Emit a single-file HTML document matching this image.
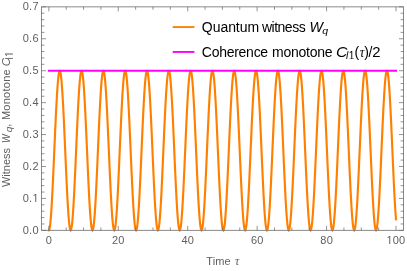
<!DOCTYPE html>
<html>
<head>
<meta charset="utf-8">
<title>Quantum witness vs coherence monotone</title>
<style>
html,body{margin:0;padding:0;background:#fff}
body{width:407px;height:271px;overflow:hidden}
svg{display:block;will-change:transform}
text{font-family:"Liberation Sans",sans-serif}
.t{font-size:11px;fill:#5e5e5e}
.l{font-size:14px;fill:#000}
.i{font-style:italic}
.s{font-family:"Liberation Serif",serif;font-style:italic}
.wq{fill:none;stroke:#ff8000;stroke-width:2.15;stroke-linejoin:miter;stroke-linecap:square}
.cl{fill:none;stroke:#ff00ff;stroke-width:2}
.frame{fill:none;stroke:#7c7c7c;stroke-width:.9}
.ticks{fill:none;stroke:#666;stroke-width:.7}
</style>
</head>
<body>
<svg width="407" height="271" viewBox="0 0 407 271">
<defs>
<clipPath id="k11"><path d="M-1 -11.00H11.00V-1.05H3.79V1H2.72V-1.05H-1Z"/></clipPath>
<clipPath id="k10"><path d="M-1 -10.20H10.20V-0.95H3.52V1H2.52V-0.95H-1Z"/></clipPath>
<clipPath id="pk"><rect x="40" y="69.63" width="367" height="200"/></clipPath>
</defs>
<rect width="407" height="271" fill="#fff"/>
<!-- curves -->
<polyline class="wq" clip-path="url(#pk)" points="48.85,230.35 49.3,229.67 49.76,227.63 50.21,224.27 50.67,219.66 51.12,213.86 51.58,206.97 52.03,199.12 52.49,190.44 52.94,181.07 53.39,171.19 53.85,160.95 54.3,150.53 54.76,140.11 55.21,129.87 55.67,119.98 56.12,110.62 56.58,101.94 57.03,94.09 57.48,87.2 57.94,81.4 58.39,76.78 58.85,73.43 59.3,71.39 59.76,70.71 60.21,71.39 60.66,73.43 61.12,76.78 61.57,81.4 62.03,87.2 62.48,94.09 62.94,101.94 63.39,110.62 63.85,119.98 64.3,129.87 64.75,140.11 65.21,150.53 65.66,160.95 66.12,171.19 66.57,181.07 67.03,190.44 67.48,199.12 67.94,206.97 68.39,213.86 68.84,219.66 69.3,224.27 69.75,227.63 70.21,229.67 70.66,230.35 71.12,229.67 71.57,227.63 72.03,224.27 72.48,219.66 72.93,213.86 73.39,206.97 73.84,199.12 74.3,190.44 74.75,181.07 75.21,171.19 75.66,160.95 76.12,150.53 76.57,140.11 77.02,129.87 77.48,119.98 77.93,110.62 78.39,101.94 78.84,94.09 79.3,87.2 79.75,81.4 80.2,76.78 80.66,73.43 81.11,71.39 81.57,70.71 82.02,71.39 82.48,73.43 82.93,76.78 83.39,81.4 83.84,87.2 84.29,94.09 84.75,101.94 85.2,110.62 85.66,119.98 86.11,129.87 86.57,140.11 87.02,150.53 87.48,160.95 87.93,171.19 88.38,181.07 88.84,190.44 89.29,199.12 89.75,206.97 90.2,213.86 90.66,219.66 91.11,224.27 91.57,227.63 92.02,229.67 92.47,230.35 92.93,229.67 93.38,227.63 93.84,224.27 94.29,219.66 94.75,213.86 95.2,206.97 95.66,199.12 96.11,190.44 96.56,181.07 97.02,171.19 97.47,160.95 97.93,150.53 98.38,140.11 98.84,129.87 99.29,119.98 99.74,110.62 100.2,101.94 100.65,94.09 101.11,87.2 101.56,81.4 102.02,76.78 102.47,73.43 102.93,71.39 103.38,70.71 103.83,71.39 104.29,73.43 104.74,76.78 105.2,81.4 105.65,87.2 106.11,94.09 106.56,101.94 107.02,110.62 107.47,119.98 107.92,129.87 108.38,140.11 108.83,150.53 109.29,160.95 109.74,171.19 110.2,181.07 110.65,190.44 111.11,199.12 111.56,206.97 112.01,213.86 112.47,219.66 112.92,224.27 113.38,227.63 113.83,229.67 114.29,230.35 114.74,229.67 115.2,227.63 115.65,224.27 116.1,219.66 116.56,213.86 117.01,206.97 117.47,199.12 117.92,190.44 118.38,181.07 118.83,171.19 119.28,160.95 119.74,150.53 120.19,140.11 120.65,129.87 121.1,119.98 121.56,110.62 122.01,101.94 122.47,94.09 122.92,87.2 123.37,81.4 123.83,76.78 124.28,73.43 124.74,71.39 125.19,70.71 125.65,71.39 126.1,73.43 126.56,76.78 127.01,81.4 127.46,87.2 127.92,94.09 128.37,101.94 128.83,110.62 129.28,119.98 129.74,129.87 130.19,140.11 130.65,150.53 131.1,160.95 131.55,171.19 132.01,181.07 132.46,190.44 132.92,199.12 133.37,206.97 133.83,213.86 134.28,219.66 134.74,224.27 135.19,227.63 135.64,229.67 136.1,230.35 136.55,229.67 137.01,227.63 137.46,224.27 137.92,219.66 138.37,213.86 138.82,206.97 139.28,199.12 139.73,190.44 140.19,181.07 140.64,171.19 141.1,160.95 141.55,150.53 142.01,140.11 142.46,129.87 142.91,119.98 143.37,110.62 143.82,101.94 144.28,94.09 144.73,87.2 145.19,81.4 145.64,76.78 146.1,73.43 146.55,71.39 147,70.71 147.46,71.39 147.91,73.43 148.37,76.78 148.82,81.4 149.28,87.2 149.73,94.09 150.19,101.94 150.64,110.62 151.09,119.98 151.55,129.87 152,140.11 152.46,150.53 152.91,160.95 153.37,171.19 153.82,181.07 154.28,190.44 154.73,199.12 155.18,206.97 155.64,213.86 156.09,219.66 156.55,224.27 157,227.63 157.46,229.67 157.91,230.35 158.36,229.67 158.82,227.63 159.27,224.27 159.73,219.66 160.18,213.86 160.64,206.97 161.09,199.12 161.55,190.44 162,181.07 162.45,171.19 162.91,160.95 163.36,150.53 163.82,140.11 164.27,129.87 164.73,119.98 165.18,110.62 165.64,101.94 166.09,94.09 166.54,87.2 167,81.4 167.45,76.78 167.91,73.43 168.36,71.39 168.82,70.71 169.27,71.39 169.73,73.43 170.18,76.78 170.63,81.4 171.09,87.2 171.54,94.09 172,101.94 172.45,110.62 172.91,119.98 173.36,129.87 173.82,140.11 174.27,150.53 174.72,160.95 175.18,171.19 175.63,181.07 176.09,190.44 176.54,199.12 177,206.97 177.45,213.86 177.9,219.66 178.36,224.27 178.81,227.63 179.27,229.67 179.72,230.35 180.18,229.67 180.63,227.63 181.09,224.27 181.54,219.66 181.99,213.86 182.45,206.97 182.9,199.12 183.36,190.44 183.81,181.07 184.27,171.19 184.72,160.95 185.18,150.53 185.63,140.11 186.08,129.87 186.54,119.98 186.99,110.62 187.45,101.94 187.9,94.09 188.36,87.2 188.81,81.4 189.27,76.78 189.72,73.43 190.17,71.39 190.63,70.71 191.08,71.39 191.54,73.43 191.99,76.78 192.45,81.4 192.9,87.2 193.36,94.09 193.81,101.94 194.26,110.62 194.72,119.98 195.17,129.87 195.63,140.11 196.08,150.53 196.54,160.95 196.99,171.19 197.44,181.07 197.9,190.44 198.35,199.12 198.81,206.97 199.26,213.86 199.72,219.66 200.17,224.27 200.63,227.63 201.08,229.67 201.53,230.35 201.99,229.67 202.44,227.63 202.9,224.27 203.35,219.66 203.81,213.86 204.26,206.97 204.72,199.12 205.17,190.44 205.62,181.07 206.08,171.19 206.53,160.95 206.99,150.53 207.44,140.11 207.9,129.87 208.35,119.98 208.81,110.62 209.26,101.94 209.71,94.09 210.17,87.2 210.62,81.4 211.08,76.78 211.53,73.43 211.99,71.39 212.44,70.71 212.9,71.39 213.35,73.43 213.8,76.78 214.26,81.4 214.71,87.2 215.17,94.09 215.62,101.94 216.08,110.62 216.53,119.98 216.98,129.87 217.44,140.11 217.89,150.53 218.35,160.95 218.8,171.19 219.26,181.07 219.71,190.44 220.17,199.12 220.62,206.97 221.07,213.86 221.53,219.66 221.98,224.27 222.44,227.63 222.89,229.67 223.35,230.35 223.8,229.67 224.26,227.63 224.71,224.27 225.16,219.66 225.62,213.86 226.07,206.97 226.53,199.12 226.98,190.44 227.44,181.07 227.89,171.19 228.35,160.95 228.8,150.53 229.25,140.11 229.71,129.87 230.16,119.98 230.62,110.62 231.07,101.94 231.53,94.09 231.98,87.2 232.43,81.4 232.89,76.78 233.34,73.43 233.8,71.39 234.25,70.71 234.71,71.39 235.16,73.43 235.62,76.78 236.07,81.4 236.52,87.2 236.98,94.09 237.43,101.94 237.89,110.62 238.34,119.98 238.8,129.87 239.25,140.11 239.71,150.53 240.16,160.95 240.61,171.19 241.07,181.07 241.52,190.44 241.98,199.12 242.43,206.97 242.89,213.86 243.34,219.66 243.8,224.27 244.25,227.63 244.7,229.67 245.16,230.35 245.61,229.67 246.07,227.63 246.52,224.27 246.98,219.66 247.43,213.86 247.89,206.97 248.34,199.12 248.79,190.44 249.25,181.07 249.7,171.19 250.16,160.95 250.61,150.53 251.07,140.11 251.52,129.87 251.97,119.98 252.43,110.62 252.88,101.94 253.34,94.09 253.79,87.2 254.25,81.4 254.7,76.78 255.16,73.43 255.61,71.39 256.06,70.71 256.52,71.39 256.97,73.43 257.43,76.78 257.88,81.4 258.34,87.2 258.79,94.09 259.25,101.94 259.7,110.62 260.15,119.98 260.61,129.87 261.06,140.11 261.52,150.53 261.97,160.95 262.43,171.19 262.88,181.07 263.34,190.44 263.79,199.12 264.24,206.97 264.7,213.86 265.15,219.66 265.61,224.27 266.06,227.63 266.52,229.67 266.97,230.35 267.43,229.67 267.88,227.63 268.33,224.27 268.79,219.66 269.24,213.86 269.7,206.97 270.15,199.12 270.61,190.44 271.06,181.07 271.51,171.19 271.97,160.95 272.42,150.53 272.88,140.11 273.33,129.87 273.79,119.98 274.24,110.62 274.7,101.94 275.15,94.09 275.6,87.2 276.06,81.4 276.51,76.78 276.97,73.43 277.42,71.39 277.88,70.71 278.33,71.39 278.79,73.43 279.24,76.78 279.69,81.4 280.15,87.2 280.6,94.09 281.06,101.94 281.51,110.62 281.97,119.98 282.42,129.87 282.88,140.11 283.33,150.53 283.78,160.95 284.24,171.19 284.69,181.07 285.15,190.44 285.6,199.12 286.06,206.97 286.51,213.86 286.97,219.66 287.42,224.27 287.87,227.63 288.33,229.67 288.78,230.35 289.24,229.67 289.69,227.63 290.15,224.27 290.6,219.66 291.05,213.86 291.51,206.97 291.96,199.12 292.42,190.44 292.87,181.07 293.33,171.19 293.78,160.95 294.24,150.53 294.69,140.11 295.14,129.87 295.6,119.98 296.05,110.62 296.51,101.94 296.96,94.09 297.42,87.2 297.87,81.4 298.33,76.78 298.78,73.43 299.23,71.39 299.69,70.71 300.14,71.39 300.6,73.43 301.05,76.78 301.51,81.4 301.96,87.2 302.42,94.09 302.87,101.94 303.32,110.62 303.78,119.98 304.23,129.87 304.69,140.11 305.14,150.53 305.6,160.95 306.05,171.19 306.51,181.07 306.96,190.44 307.41,199.12 307.87,206.97 308.32,213.86 308.78,219.66 309.23,224.27 309.69,227.63 310.14,229.67 310.59,230.35 311.05,229.67 311.5,227.63 311.96,224.27 312.41,219.66 312.87,213.86 313.32,206.97 313.78,199.12 314.23,190.44 314.68,181.07 315.14,171.19 315.59,160.95 316.05,150.53 316.5,140.11 316.96,129.87 317.41,119.98 317.87,110.62 318.32,101.94 318.77,94.09 319.23,87.2 319.68,81.4 320.14,76.78 320.59,73.43 321.05,71.39 321.5,70.71 321.96,71.39 322.41,73.43 322.86,76.78 323.32,81.4 323.77,87.2 324.23,94.09 324.68,101.94 325.14,110.62 325.59,119.98 326.05,129.87 326.5,140.11 326.95,150.53 327.41,160.95 327.86,171.19 328.32,181.07 328.77,190.44 329.23,199.12 329.68,206.97 330.13,213.86 330.59,219.66 331.04,224.27 331.5,227.63 331.95,229.67 332.41,230.35 332.86,229.67 333.32,227.63 333.77,224.27 334.22,219.66 334.68,213.86 335.13,206.97 335.59,199.12 336.04,190.44 336.5,181.07 336.95,171.19 337.41,160.95 337.86,150.53 338.31,140.11 338.77,129.87 339.22,119.98 339.68,110.62 340.13,101.94 340.59,94.09 341.04,87.2 341.5,81.4 341.95,76.78 342.4,73.43 342.86,71.39 343.31,70.71 343.77,71.39 344.22,73.43 344.68,76.78 345.13,81.4 345.59,87.2 346.04,94.09 346.49,101.94 346.95,110.62 347.4,119.98 347.86,129.87 348.31,140.11 348.77,150.53 349.22,160.95 349.67,171.19 350.13,181.07 350.58,190.44 351.04,199.12 351.49,206.97 351.95,213.86 352.4,219.66 352.86,224.27 353.31,227.63 353.76,229.67 354.22,230.35 354.67,229.67 355.13,227.63 355.58,224.27 356.04,219.66 356.49,213.86 356.95,206.97 357.4,199.12 357.85,190.44 358.31,181.07 358.76,171.19 359.22,160.95 359.67,150.53 360.13,140.11 360.58,129.87 361.04,119.98 361.49,110.62 361.94,101.94 362.4,94.09 362.85,87.2 363.31,81.4 363.76,76.78 364.22,73.43 364.67,71.39 365.13,70.71 365.58,71.39 366.03,73.43 366.49,76.78 366.94,81.4 367.4,87.2 367.85,94.09 368.31,101.94 368.76,110.62 369.21,119.98 369.67,129.87 370.12,140.11 370.58,150.53 371.03,160.95 371.49,171.19 371.94,181.07 372.4,190.44 372.85,199.12 373.3,206.97 373.76,213.86 374.21,219.66 374.67,224.27 375.12,227.63 375.58,229.67 376.03,230.35 376.49,229.67 376.94,227.63 377.39,224.27 377.85,219.66 378.3,213.86 378.76,206.97 379.21,199.12 379.67,190.44 380.12,181.07 380.58,171.19 381.03,160.95 381.48,150.53 381.94,140.11 382.39,129.87 382.85,119.98 383.3,110.62 383.76,101.94 384.21,94.09 384.67,87.2 385.12,81.4 385.57,76.78 386.03,73.43 386.48,71.39 386.94,70.71 387.39,71.39 387.85,73.43 388.3,76.78 388.75,81.4 389.21,87.2 389.66,94.09 390.12,101.94 390.57,110.62 391.03,119.98 391.48,129.87 391.94,140.11 392.39,150.53 392.84,160.95 393.3,171.19 393.75,181.07 394.21,190.44 394.66,199.12 395.12,206.97 395.57,213.86 396,219.36"/>
<line class="cl" x1="48.85" y1="70.86" x2="396" y2="70.86" stroke-linecap="square"/>
<!-- frame and ticks -->
<rect class="frame" x="41.55" y="6.85" width="361.95" height="223.5"/>
<path class="ticks" d="M48.85 230.35v-4.5M48.85 6.85v4.5M66.21 230.35v-2.9M66.21 6.85v2.9M83.56 230.35v-2.9M83.56 6.85v2.9M100.92 230.35v-2.9M100.92 6.85v2.9M118.28 230.35v-4.5M118.28 6.85v4.5M135.64 230.35v-2.9M135.64 6.85v2.9M153 230.35v-2.9M153 6.85v2.9M170.35 230.35v-2.9M170.35 6.85v2.9M187.71 230.35v-4.5M187.71 6.85v4.5M205.07 230.35v-2.9M205.07 6.85v2.9M222.42 230.35v-2.9M222.42 6.85v2.9M239.78 230.35v-2.9M239.78 6.85v2.9M257.14 230.35v-4.5M257.14 6.85v4.5M274.5 230.35v-2.9M274.5 6.85v2.9M291.86 230.35v-2.9M291.86 6.85v2.9M309.21 230.35v-2.9M309.21 6.85v2.9M326.57 230.35v-4.5M326.57 6.85v4.5M343.93 230.35v-2.9M343.93 6.85v2.9M361.29 230.35v-2.9M361.29 6.85v2.9M378.64 230.35v-2.9M378.64 6.85v2.9M396 230.35v-4.5M396 6.85v4.5M41.55 230.35h4.5M403.5 230.35h-4.5M41.55 223.96h2.9M403.5 223.96h-2.9M41.55 217.58h2.9M403.5 217.58h-2.9M41.55 211.19h2.9M403.5 211.19h-2.9M41.55 204.81h2.9M403.5 204.81h-2.9M41.55 198.42h4.5M403.5 198.42h-4.5M41.55 192.04h2.9M403.5 192.04h-2.9M41.55 185.65h2.9M403.5 185.65h-2.9M41.55 179.26h2.9M403.5 179.26h-2.9M41.55 172.88h2.9M403.5 172.88h-2.9M41.55 166.49h4.5M403.5 166.49h-4.5M41.55 160.11h2.9M403.5 160.11h-2.9M41.55 153.72h2.9M403.5 153.72h-2.9M41.55 147.34h2.9M403.5 147.34h-2.9M41.55 140.95h2.9M403.5 140.95h-2.9M41.55 134.56h4.5M403.5 134.56h-4.5M41.55 128.18h2.9M403.5 128.18h-2.9M41.55 121.79h2.9M403.5 121.79h-2.9M41.55 115.41h2.9M403.5 115.41h-2.9M41.55 109.02h2.9M403.5 109.02h-2.9M41.55 102.64h4.5M403.5 102.64h-4.5M41.55 96.25h2.9M403.5 96.25h-2.9M41.55 89.86h2.9M403.5 89.86h-2.9M41.55 83.48h2.9M403.5 83.48h-2.9M41.55 77.09h2.9M403.5 77.09h-2.9M41.55 70.71h4.5M403.5 70.71h-4.5M41.55 64.32h2.9M403.5 64.32h-2.9M41.55 57.94h2.9M403.5 57.94h-2.9M41.55 51.55h2.9M403.5 51.55h-2.9M41.55 45.16h2.9M403.5 45.16h-2.9M41.55 38.78h4.5M403.5 38.78h-4.5M41.55 32.39h2.9M403.5 32.39h-2.9M41.55 26.01h2.9M403.5 26.01h-2.9M41.55 19.62h2.9M403.5 19.62h-2.9M41.55 13.24h2.9M403.5 13.24h-2.9M41.55 6.85h4.5M403.5 6.85h-4.5"/>
<!-- tick labels -->
<text class="t" x="48.95" y="244" text-anchor="middle" style="letter-spacing:0.2px">0</text>
<text class="t" x="118.38" y="244" text-anchor="middle" style="letter-spacing:0.2px">20</text>
<text class="t" x="187.81" y="244" text-anchor="middle" style="letter-spacing:0.2px">40</text>
<text class="t" x="257.24" y="244" text-anchor="middle" style="letter-spacing:0.2px">60</text>
<text class="t" x="326.67" y="244" text-anchor="middle" style="letter-spacing:0.2px">80</text>
<g transform="translate(386.45,244)" clip-path="url(#k11)"><text class="t">1</text></g>
<text class="t" x="392.77" y="244" style="letter-spacing:0.2px">00</text>
<text class="t" x="22.7" y="234" style="letter-spacing:0.3px">0.0</text>
<text class="t" x="22.7" y="202" style="letter-spacing:0.3px">0.</text>
<g transform="translate(32.48,202)" clip-path="url(#k11)"><text class="t">1</text></g>
<text class="t" x="22.7" y="170" style="letter-spacing:0.3px">0.2</text>
<text class="t" x="22.7" y="138" style="letter-spacing:0.3px">0.3</text>
<text class="t" x="22.7" y="106" style="letter-spacing:0.3px">0.4</text>
<text class="t" x="22.7" y="74" style="letter-spacing:0.3px">0.5</text>
<text class="t" x="22.7" y="42" style="letter-spacing:0.3px">0.6</text>
<text class="t" x="22.7" y="10" style="letter-spacing:0.3px">0.7</text>
<!-- legend -->
<line class="wq" x1="172.7" y1="27.05" x2="194.4" y2="27.05" style="stroke-width:1.9;stroke-linecap:butt"/>
<line class="cl" x1="172.7" y1="51.95" x2="194.4" y2="51.95" style="stroke-width:1.9"/>
<text class="l" x="201.84" y="32" style="letter-spacing:-0.051px">Quantum</text>
<text class="l" x="262.02" y="32" style="letter-spacing:-0.511px">witness</text>
<text class="l i" transform="translate(309.39,32) scale(1.019,1)">W</text>
<text class="l i" transform="translate(322.27,34.3) scale(1.087,1)" style="font-size:9.7px">q</text>
<text class="l" x="201.84" y="57" style="letter-spacing:-0.271px">Coherence</text>
<text class="l" x="272.02" y="57" style="letter-spacing:-0.247px">monotone</text>
<text class="l i" transform="translate(336,57) scale(1.130,1)">C</text>
<text class="l i" x="346.1" y="59.4" style="font-size:10.2px">l</text>
<g transform="translate(348.75,59.4)" clip-path="url(#k10)"><text class="l" style="font-size:10.2px">1</text></g>
<text class="l" x="354.52" y="57">(</text>
<text class="l s" transform="translate(359.7,57) scale(0.933,1)">τ</text>
<text class="l" x="364.18" y="57">)</text>
<text class="l" x="368.48" y="57">/</text>
<text class="l" transform="translate(372.18,57) scale(1.060,1)">2</text>
<!-- axis labels -->
<text class="t" x="206.23" y="265.3" style="letter-spacing:0.161px">Time</text>
<text class="t s" transform="translate(234.91,265.3) scale(0.889,1)" style="font-size:13.5px">τ</text>
<text class="t" transform="translate(9.9,187) rotate(-90)" style="letter-spacing:-0.012px">Witness</text>
<text class="t i" transform="translate(9.9,142.93) rotate(-90) scale(0.849,1)">W</text>
<text class="t i" transform="translate(12.4,132.32) rotate(-90) scale(1.048,1)" style="font-size:9.7px">q</text>
<text class="t" transform="translate(9.9,126.85) rotate(-90)">,</text>
<text class="t" transform="translate(9.9,120.06) rotate(-90)" style="letter-spacing:0.254px">Monotone</text>
<text class="t i" transform="translate(9.9,66.23) rotate(-90) scale(1.031,1)">C</text>
<text class="t" transform="translate(12.8,59.52) rotate(-90)" style="font-size:10.2px">l</text>
<g transform="translate(12.8,57.1) rotate(-90)" clip-path="url(#k10)"><text class="t" style="font-size:10.2px">1</text></g>
</svg>
</body>
</html>
